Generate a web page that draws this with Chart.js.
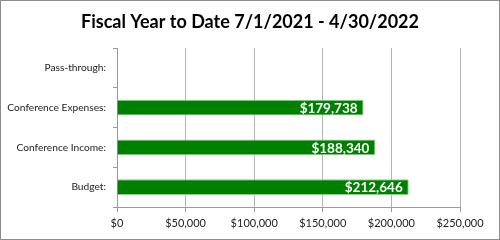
<!DOCTYPE html>
<html>
<head>
<meta charset="utf-8">
<script src="https://cdn.jsdelivr.net/npm/chart.js@4/dist/chart.umd.min.js"></script>
<style>
  body { margin: 0; background: #fff; }
  #box { width: 500px; height: 240px; box-sizing: border-box; border: 1px solid #8c8c8c; }
</style>
</head>
<body>
<div id="box"><canvas id="myChart" width="498" height="238"></canvas></div>
<script>
// categories and values (dollars)
var categories = ['Pass-through:', 'Conference Expenses:', 'Conference Income:', 'Budget:'];
var amounts = [0, 179738, 188340, 212646];
var tickValues = [0, 50000, 100000, 150000, 200000, 250000];
var chartTitle = 'Fiscal Year to Date 7/1/2021 - 4/30/2022';

function money(v) {
    return '$' + Math.round(v).toLocaleString('en-US');
}

// title centred on the whole canvas (layout padding would shift the built-in one)
var centredTitle = {
    id: 'centredTitle',
    afterDraw: function (chart) {
        var ctx = chart.ctx;
        ctx.save();
        ctx.font = 'bold 18px Lato';
        ctx.fillStyle = '#000';
        ctx.textAlign = 'center';
        ctx.textBaseline = 'middle';
        ctx.fillText(chartTitle, chart.width / 2, 21);
        ctx.restore();
    }
};

// white labels inside the end of each bar
var barLabels = {
    id: 'barLabels',
    afterDatasetsDraw: function (chart) {
        var ctx = chart.ctx;
        var meta = chart.getDatasetMeta(0);
        ctx.save();
        ctx.font = 'bold 13.5px Lato';
        ctx.fillStyle = '#ffffff';
        ctx.textAlign = 'right';
        ctx.textBaseline = 'middle';
        meta.data.forEach(function (bar, i) {
            if (!amounts[i]) return;
            ctx.fillText(money(amounts[i]), bar.x - 6, bar.y + 1);
        });
        ctx.restore();
    }
};

var ctx = document.getElementById('myChart').getContext('2d');
var myChart = new Chart(ctx, {
    type: 'bar',
    data: {
        labels: categories,
        datasets: [{
            data: amounts,
            backgroundColor: '#008000',
            borderColor: '#8fd08f',
            borderWidth: 1,
            borderSkipped: 'start',
            barPercentage: 0.4,
            categoryPercentage: 1
        }]
    },
    options: {
        indexAxis: 'y',
        responsive: false,
        animation: false,
        layout: { padding: { left: 0, right: 39, top: 47, bottom: 0 } },
        plugins: {
            legend: { display: false },
            tooltip: { enabled: false },
            title: { display: false }
        },
        scales: {
            x: {
                min: 0,
                max: 250000,
                afterBuildTicks: function (scale) {
                    scale.ticks = tickValues.map(function (v) { return { value: v }; });
                },
                afterFit: function (scale) { scale.height = 32; },
                grid: { color: '#b4b4b4', tickLength: 5, tickColor: '#9a9a9a' },
                border: { color: '#9a9a9a' },
                ticks: {
                    color: '#222',
                    padding: 5,
                    font: { family: 'Lato', size: 11 },
                    callback: function (v) { return money(v); }
                }
            },
            y: {
                afterFit: function (scale) { scale.width = 116; },
                grid: { drawOnChartArea: false, offset: true, tickLength: 4, tickColor: '#9a9a9a' },
                border: { color: '#9a9a9a' },
                ticks: {
                    color: '#222',
                    padding: 7,
                    font: { family: 'Lato', size: 10.2 }
                }
            }
        }
    },
    plugins: [barLabels, centredTitle]
});
</script>
</body>
</html>
